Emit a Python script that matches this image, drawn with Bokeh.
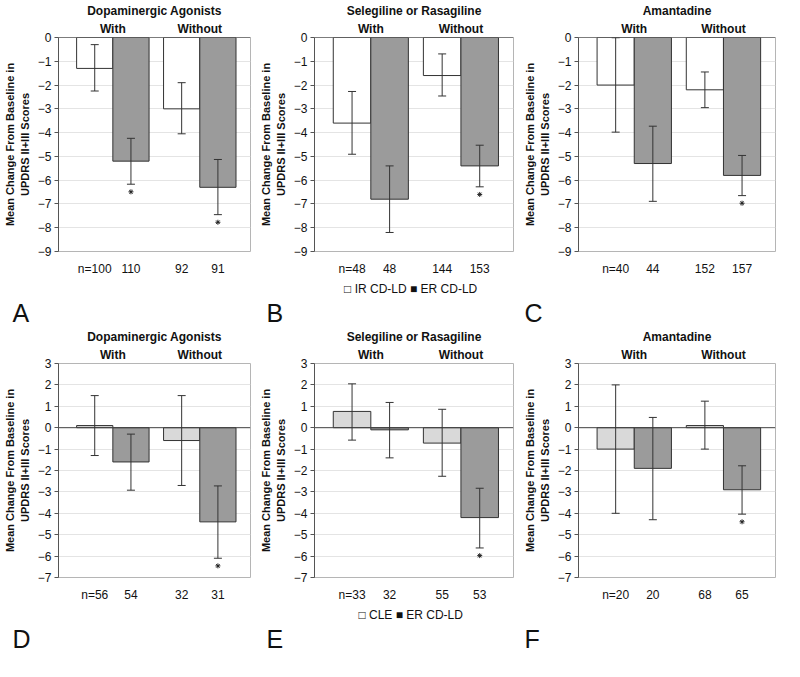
from bokeh.plotting import figure
from bokeh.models import ColumnDataSource, LinearAxis, FixedTicker, Title
from bokeh.layouts import row, column
from bokeh.embed import file_html
from bokeh.resources import INLINE

# ---------------- data ----------------
drug_titles = ["Dopaminergic Agonists", "Selegiline or Rasagiline", "Amantadine"]
subgroups = ["With", "Without"]
top_legend = "\u25a1 IR CD-LD   \u25a0 ER CD-LD"
bottom_legend = "\u25a1 CLE   \u25a0 ER CD-LD"
top_letters = ["A", "B", "C"]
bottom_letters = ["D", "E", "F"]
ylabel_outer = "Mean Change From Baseline in"
ylabel_inner = "UPDRS II+III Scores"
top_yticks = [-9, -8, -7, -6, -5, -4, -3, -2, -1, 0]
bottom_yticks = [-7, -6, -5, -4, -3, -2, -1, 0, 1, 2, 3]

# order in each panel: With/comparator, With/ER, Without/comparator, Without/ER
A_mean = [-1.3, -5.2, -3.0, -6.3]
A_low = [-2.25, -6.17, -4.05, -7.45]
A_high = [-0.3, -4.24, -1.9, -5.13]
A_n = ["n=100", "110", "92", "91"]
A_sig = [0, 1, 0, 1]

B_mean = [-3.6, -6.8, -1.6, -5.4]
B_low = [-4.91, -8.2, -2.46, -6.28]
B_high = [-2.27, -5.4, -0.69, -4.53]
B_n = ["n=48", "48", "144", "153"]
B_sig = [0, 0, 0, 1]

C_mean = [-2.0, -5.3, -2.2, -5.8]
C_low = [-3.98, -6.89, -2.95, -6.65]
C_high = [-0.01, -3.73, -1.45, -4.96]
C_n = ["n=40", "44", "152", "157"]
C_sig = [0, 0, 0, 1]

D_mean = [0.1, -1.6, -0.6, -4.4]
D_low = [-1.3, -2.92, -2.7, -6.1]
D_high = [1.5, -0.3, 1.5, -2.72]
D_n = ["n=56", "54", "32", "31"]
D_sig = [0, 0, 0, 1]

E_mean = [0.76, -0.1, -0.72, -4.2]
E_low = [-0.58, -1.41, -2.27, -5.62]
E_high = [2.05, 1.18, 0.86, -2.83]
E_n = ["n=33", "32", "55", "53"]
E_sig = [0, 0, 0, 1]

F_mean = [-1.0, -1.9, 0.1, -2.9]
F_low = [-4.0, -4.3, -1.0, -4.04]
F_high = [2.0, 0.48, 1.24, -1.78]
F_n = ["n=20", "20", "68", "65"]
F_sig = [0, 0, 0, 1]

# ---------------- styling ----------------
ER_COLOR = "#9b9b9b"
IR_COLOR = "#ffffff"
CLE_COLOR = "#d9d9d9"
EDGE = "#333333"
TXT = "#111111"
XMAX = 53
BAR_W = 10


def make_panel(title, mean, low, high, nlab, sig, ref_color, yticks, letter, legend_text,
               width, height, left, right, top, bottom, letter_offset):
    xs = [10 + s * 10 + g * 24 for g in range(2) for s in range(2)]
    centers = [15 + g * 24 for g in range(2)]
    ymin, ymax = yticks[0], yticks[-1]
    fh = height - top - bottom
    uy = (ymax - ymin) / fh

    p = figure(width=width, height=height, output_backend="svg", toolbar_location=None,
               x_range=(0, XMAX), y_range=(ymin, ymax), title=title,
               min_border_left=left, min_border_right=right,
               min_border_top=top, min_border_bottom=bottom)
    p.title.align = "center"
    p.title.text_font_size = "12px"
    p.title.text_font_style = "bold"
    p.title.text_color = TXT
    p.title.standoff = 2
    p.outline_line_color = "#b5b5b5"

    # inner y axis
    yax = p.yaxis[0]
    yax.ticker = FixedTicker(ticks=yticks)
    yax.major_label_overrides = {t: str(t).replace("-", "\u2212") for t in yticks}
    yax.major_label_text_font_size = "12px"
    yax.major_label_text_color = TXT
    yax.major_label_standoff = 3
    yax.major_tick_out = 4
    yax.major_tick_in = 0
    yax.minor_tick_line_color = None
    yax.axis_line_color = "#555555"
    yax.major_tick_line_color = "#555555"
    yax.axis_label = ylabel_inner
    yax.axis_label_text_font_size = "11px"
    yax.axis_label_text_font_style = "bold"
    yax.axis_label_text_color = TXT
    yax.axis_label_standoff = 4

    # outer y axis carrying the first line of the axis title
    oax = LinearAxis(ticker=FixedTicker(ticks=[ymin]), major_label_overrides={ymin: ""},
                     axis_label=ylabel_outer)
    oax.axis_line_color = None
    oax.major_tick_line_color = None
    oax.minor_tick_line_color = None
    oax.major_tick_out = 0
    oax.major_tick_in = 0
    oax.major_label_standoff = 0
    oax.axis_label_standoff = 0
    oax.axis_label_text_font_size = "11px"
    oax.axis_label_text_font_style = "bold"
    oax.axis_label_text_color = TXT
    p.add_layout(oax, "left")

    # x axis: group sizes
    xax = p.xaxis[0]
    xax.ticker = FixedTicker(ticks=xs)
    xax.major_label_overrides = {x: s for x, s in zip(xs, nlab)}
    xax.axis_line_color = None
    xax.major_tick_line_color = None
    xax.minor_tick_line_color = None
    xax.major_label_text_font_size = "12px"
    xax.major_label_text_color = TXT
    xax.major_label_standoff = 4

    # above axis: With / Without
    aax = LinearAxis(ticker=FixedTicker(ticks=centers),
                     major_label_overrides={c: s for c, s in zip(centers, subgroups)})
    aax.axis_line_color = None
    aax.major_tick_line_color = None
    aax.minor_tick_line_color = None
    aax.major_tick_out = 0
    aax.major_tick_in = 0
    aax.major_label_text_font_size = "12px"
    aax.major_label_text_font_style = "bold"
    aax.major_label_text_color = TXT
    aax.major_label_standoff = 2
    p.add_layout(aax, "above")

    p.xgrid.grid_line_color = None
    p.ygrid.ticker = FixedTicker(ticks=yticks)
    p.ygrid.grid_line_color = "#e4e4e4"

    ref_src = ColumnDataSource(dict(x=[xs[0], xs[2]], top=[mean[0], mean[2]]))
    er_src = ColumnDataSource(dict(x=[xs[1], xs[3]], top=[mean[1], mean[3]]))
    p.vbar(x="x", top="top", bottom=0, width=BAR_W, source=ref_src,
           fill_color=ref_color, line_color=EDGE, line_width=1)
    p.vbar(x="x", top="top", bottom=0, width=BAR_W, source=er_src,
           fill_color=ER_COLOR, line_color=EDGE, line_width=1)

    # zero line
    p.line(x=[0, XMAX], y=[0, 0], line_color="#444444", line_width=1)

    # error bars
    p.segment(x0=xs, y0=low, x1=xs, y1=high, line_color=EDGE, line_width=1)
    p.scatter(x=xs + xs, y=low + high, marker="dash", size=8,
              line_color=EDGE, line_width=1)

    # significance asterisks, a few pixels under the lower whisker
    sx = [x for x, s in zip(xs, sig) if s]
    sy = [l - 8 * uy for l, s in zip(low, sig) if s]
    p.scatter(x=sx, y=sy, marker="asterisk", size=5, line_color="#222222", line_width=1)

    # legend line (or an empty line keeping rows aligned) and the panel letter
    lt = Title(text=legend_text, align="center", text_font_size="12px",
               text_font_style="normal", text_color=TXT, standoff=2)
    p.add_layout(lt, "below")
    tt = Title(text=letter, align="left", offset=letter_offset, text_font_size="25px",
               text_font_style="normal", text_color=TXT, standoff=0)
    p.add_layout(tt, "below")
    return p


widths = [256, 261, 259]
lefts = [50, 57, 61]
rights = [6, 4, 1]
letter_offsets = [-46, -48, -54]

top_data = [(A_mean, A_low, A_high, A_n, A_sig),
            (B_mean, B_low, B_high, B_n, B_sig),
            (C_mean, C_low, C_high, C_n, C_sig)]
bottom_data = [(D_mean, D_low, D_high, D_n, D_sig),
               (E_mean, E_low, E_high, E_n, E_sig),
               (F_mean, F_low, F_high, F_n, F_sig)]

top_figs = []
for i, (m, lo, hi, n, sg) in enumerate(top_data):
    top_figs.append(make_panel(drug_titles[i], m, lo, hi, n, sg, IR_COLOR, top_yticks,
                               top_letters[i], top_legend if i == 1 else " ",
                               widths[i], 326, lefts[i], rights[i], 31, 70,
                               letter_offsets[i]))

bottom_figs = []
for i, (m, lo, hi, n, sg) in enumerate(bottom_data):
    bottom_figs.append(make_panel(drug_titles[i], m, lo, hi, n, sg, CLE_COLOR,
                                  bottom_yticks, bottom_letters[i],
                                  bottom_legend if i == 1 else " ",
                                  widths[i], 326, lefts[i], rights[i], 36, 66,
                                  letter_offsets[i]))

layout = column(row(*top_figs), row(*bottom_figs))

with open("out.html", "w") as f:
    f.write(file_html(layout, INLINE))
